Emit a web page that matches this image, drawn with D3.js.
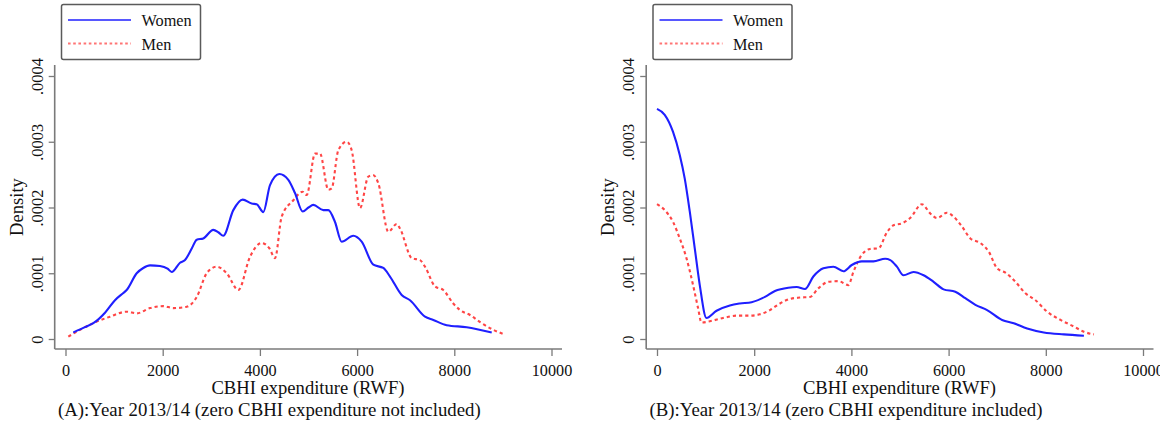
<!DOCTYPE html>
<html>
<head>
<meta charset="utf-8">
<script src="https://cdn.jsdelivr.net/npm/d3@7"></script>
<style>
  html, body { margin: 0; padding: 0; background: #fff; }
  svg { display: block; }
  text { font-family: "Liberation Serif", "Times New Roman", serif; fill: #111; }
</style>
</head>
<body>
<svg id="chart" width="1160" height="425"></svg>
<script>
// Kernel density estimates of CBHI expenditure (RWF), [expenditure, density]
const womenExcl = [
  [160, 1.0e-5], [400, 1.8e-5], [572, 2.4e-5], [813, 4.0e-5], [1018, 5.9e-5],
  [1190, 7.0e-5], [1259, 7.45e-5], [1465, 1.0e-4], [1600, 1.08e-4], [1739, 1.12e-4],
  [1944, 1.11e-4], [2100, 1.07e-4], [2185, 1.02e-4], [2356, 1.16e-4], [2459, 1.20e-4],
  [2600, 1.38e-4], [2700, 1.51e-4], [2835, 1.53e-4], [3041, 1.66e-4], [3150, 1.62e-4],
  [3247, 1.57e-4], [3453, 1.96e-4], [3646, 2.12e-4], [3831, 2.06e-4], [3934, 2.05e-4],
  [4070, 1.93e-4], [4208, 2.34e-4], [4400, 2.51e-4], [4585, 2.42e-4], [4722, 2.22e-4],
  [4880, 1.94e-4], [5000, 2.00e-4], [5099, 2.04e-4], [5305, 1.96e-4], [5407, 1.96e-4],
  [5545, 1.78e-4], [5683, 1.48e-4], [5922, 1.57e-4], [6094, 1.48e-4], [6334, 1.13e-4],
  [6539, 1.08e-4], [6677, 9.5e-5], [6917, 6.7e-5], [7089, 5.9e-5], [7397, 3.4e-5],
  [7568, 2.9e-5], [7843, 2.1e-5], [8255, 1.8e-5], [8770, 1.0e-5]
];
const menExcl = [
  [58, 3.5e-6], [298, 1.4e-5], [572, 2.4e-5], [916, 3.4e-5], [1259, 4.15e-5],
  [1465, 3.9e-5], [1739, 4.7e-5], [2012, 5.0e-5], [2218, 4.7e-5], [2494, 4.9e-5],
  [2700, 6.4e-5], [2905, 1.0e-4], [3111, 1.10e-4], [3317, 1.0e-4], [3556, 7.45e-5],
  [3796, 1.25e-4], [4037, 1.46e-4], [4194, 1.38e-4], [4311, 1.23e-4], [4448, 1.86e-4],
  [4688, 2.11e-4], [4880, 2.24e-4], [4963, 2.19e-4], [5134, 2.82e-4], [5237, 2.82e-4],
  [5407, 2.27e-4], [5477, 2.29e-4], [5613, 2.87e-4], [5786, 3.00e-4], [5889, 2.87e-4],
  [6060, 1.99e-4], [6231, 2.47e-4], [6334, 2.49e-4], [6436, 2.37e-4], [6643, 1.63e-4],
  [6815, 1.75e-4], [6883, 1.68e-4], [7124, 1.23e-4], [7294, 1.20e-4], [7397, 1.10e-4],
  [7603, 8.0e-5], [7774, 7.45e-5], [7979, 5.4e-5], [8117, 4.4e-5], [8323, 3.65e-5],
  [8564, 2.4e-5], [8802, 1.4e-5], [9008, 7.6e-6]
];
const womenIncl = [
  [0, 3.50e-4], [159, 3.41e-4], [330, 3.15e-4], [468, 2.80e-4], [571, 2.44e-4],
  [674, 1.94e-4], [777, 1.38e-4], [880, 8.2e-5], [1018, 3.2e-5], [1225, 4.3e-5],
  [1499, 5.1e-5], [1705, 5.4e-5], [1946, 5.6e-5], [2221, 6.4e-5], [2427, 7.3e-5],
  [2701, 7.8e-5], [2874, 7.9e-5], [3045, 7.6e-5], [3217, 9.5e-5], [3423, 1.075e-4],
  [3629, 1.10e-4], [3835, 1.03e-4], [4008, 1.125e-4], [4214, 1.18e-4], [4454, 1.18e-4],
  [4695, 1.22e-4], [4800, 1.20e-4], [4936, 1.10e-4], [5072, 9.7e-5], [5278, 1.02e-4],
  [5485, 9.7e-5], [5691, 8.7e-5], [5897, 7.55e-5], [6138, 7.2e-5], [6344, 6.2e-5],
  [6551, 5.2e-5], [6792, 4.4e-5], [7101, 2.9e-5], [7340, 2.4e-5], [7616, 1.6e-5],
  [7959, 1.0e-5], [8371, 7.0e-6], [8784, 5.0e-6]
];
const menIncl = [
  [0, 2.05e-4], [159, 1.96e-4], [330, 1.78e-4], [468, 1.53e-4], [606, 1.23e-4],
  [742, 8.2e-5], [845, 4.7e-5], [915, 2.5e-5], [1087, 2.7e-5], [1361, 3.2e-5],
  [1637, 3.55e-5], [1911, 3.55e-5], [2117, 3.75e-5], [2324, 4.4e-5], [2530, 5.4e-5],
  [2736, 6.1e-5], [2942, 6.3e-5], [3148, 6.4e-5], [3320, 7.7e-5], [3526, 8.7e-5],
  [3732, 8.8e-5], [3938, 8.2e-5], [4041, 1.02e-4], [4214, 1.28e-4], [4386, 1.37e-4],
  [4557, 1.38e-4], [4730, 1.62e-4], [4866, 1.73e-4], [5039, 1.76e-4], [5210, 1.84e-4],
  [5451, 2.05e-4], [5623, 1.91e-4], [5761, 1.84e-4], [5967, 1.92e-4], [6103, 1.86e-4],
  [6276, 1.71e-4], [6447, 1.53e-4], [6654, 1.46e-4], [6825, 1.33e-4], [6998, 1.075e-4],
  [7169, 1.01e-4], [7375, 8.7e-5], [7581, 6.95e-5], [7788, 5.9e-5], [8029, 4.15e-5],
  [8303, 2.9e-5], [8577, 1.9e-5], [8784, 1.1e-5], [8990, 7.0e-6]
];

const xTicks = [0, 2000, 4000, 6000, 8000, 10000];
const yTicks = [0, 0.0001, 0.0002, 0.0003, 0.0004];
const seriesNames = ["Women", "Men"];
const captions = [
  "(A):Year 2013/14 (zero CBHI expenditure not included)",
  "(B):Year 2013/14 (zero CBHI expenditure included)"
];
const xTitle = "CBHI expenditure (RWF)";
const yTitle = "Density";

const panels = [
  { women: womenExcl, men: menExcl, caption: captions[0], dx: 0 },
  { women: womenIncl, men: menIncl, caption: captions[1], dx: 591.5 }
];

const styles = {
  Women: { color: "#1f1fff", dash: null },
  Men:   { color: "#ff4545", dash: "3.2,3" }
};

const svg = d3.select("#chart");
const axisColor = "#7a7a7a";

panels.forEach(p => {
  const g = svg.append("g").attr("transform", `translate(${p.dx},0)`);

  const x = d3.scaleLinear().domain([0, 10000]).range([65.5, 551.5]);
  const y = d3.scaleLinear().domain([0, 0.0004]).range([339, 76]);

  const axisX = 54.7, axisY = 349;

  // axis lines extend a little past the tick range
  g.append("line")
    .attr("x1", axisX).attr("x2", axisX)
    .attr("y1", 65).attr("y2", axisY)
    .attr("stroke", axisColor).attr("stroke-width", 1.6);
  g.append("line")
    .attr("x1", axisX).attr("x2", 562)
    .attr("y1", axisY).attr("y2", axisY)
    .attr("stroke", axisColor).attr("stroke-width", 1.6);

  // y axis
  const yFmt = d => d === 0 ? "0" : d3.format(".4f")(d).replace(/^0/, "");
  const yAxis = g.append("g")
    .attr("transform", `translate(${axisX},0)`)
    .call(d3.axisLeft(y).tickValues(yTicks).tickSize(6).tickPadding(0).tickFormat(yFmt));
  yAxis.select(".domain").remove();
  yAxis.selectAll(".tick line").attr("stroke", axisColor).attr("stroke-width", 1.3);
  yAxis.selectAll(".tick text")
    .attr("font-size", 16.5)
    .attr("x", 0).attr("dy", null).attr("dx", null)
    .attr("transform", "translate(-12,0) rotate(-90)")
    .attr("text-anchor", "middle")
    .attr("fill", "#111");

  // x axis
  const xAxis = g.append("g")
    .attr("transform", `translate(0,${axisY})`)
    .call(d3.axisBottom(x).tickValues(xTicks).tickSize(7).tickPadding(0).tickFormat(d3.format("d")));
  xAxis.select(".domain").remove();
  xAxis.selectAll(".tick line").attr("stroke", axisColor).attr("stroke-width", 1.3);
  xAxis.selectAll(".tick text")
    .attr("font-size", 16.2)
    .attr("y", 26.8).attr("dy", null)
    .attr("fill", "#111");

  // axis titles and caption
  g.append("text")
    .attr("x", 308).attr("y", 394)
    .attr("text-anchor", "middle")
    .attr("font-size", 18.6)
    .text(xTitle);
  g.append("text")
    .attr("transform", "translate(22.5,207) rotate(-90)")
    .attr("text-anchor", "middle")
    .attr("font-size", 18.6)
    .text(yTitle);
  g.append("text")
    .attr("x", 58).attr("y", 416)
    .attr("font-size", 18.8)
    .text(p.caption);

  // density curves
  const line = d3.line()
    .x(d => x(d[0]))
    .y(d => y(d[1]))
    .curve(d3.curveMonotoneX);

  [["Men", p.men], ["Women", p.women]].forEach(([name, data]) => {
    g.append("path")
      .datum(data)
      .attr("fill", "none")
      .attr("stroke", styles[name].color)
      .attr("stroke-width", 2.1)
      .attr("stroke-dasharray", styles[name].dash)
      .attr("stroke-linejoin", "round")
      .attr("d", line);
  });

  // legend
  const lg = g.append("g");
  lg.append("rect")
    .attr("x", 61.5).attr("y", 4.5)
    .attr("width", 139).attr("height", 55)
    .attr("rx", 2)
    .attr("fill", "#fff")
    .attr("stroke", "#5a5a5a").attr("stroke-width", 1.5);
  seriesNames.forEach((name, i) => {
    const cy = 20 + i * 23.5;
    lg.append("line")
      .attr("x1", 68).attr("x2", 131)
      .attr("y1", cy).attr("y2", cy)
      .attr("stroke", styles[name].color)
      .attr("stroke-opacity", 0.75)
      .attr("stroke-width", 1.8)
      .attr("stroke-dasharray", name === "Men" ? "2.6,2.6" : null);
    lg.append("text")
      .attr("x", 141.5).attr("y", cy + 6)
      .attr("font-size", 16.3)
      .text(name);
  });
});
</script>
</body>
</html>
